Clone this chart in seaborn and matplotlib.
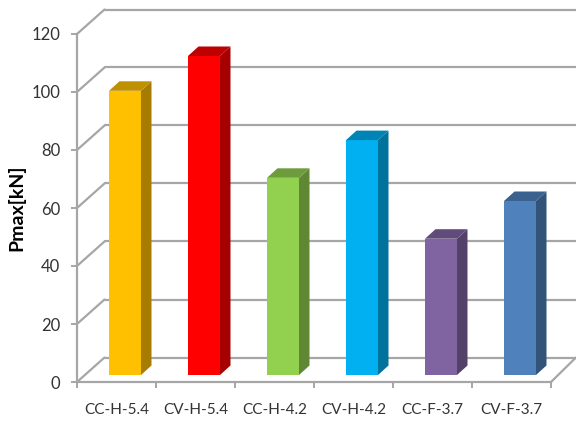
import matplotlib
matplotlib.use("Agg")
import matplotlib.pyplot as plt
from matplotlib.patches import Polygon
import seaborn as sns

specimens = ["CC-H-5.4", "CV-H-5.4", "CC-H-4.2", "CV-H-4.2", "CC-F-3.7", "CV-F-3.7"]
pmax = [98, 110, 68, 81, 47, 60]
front_colors = ["#FFC000", "#FF0000", "#92D050", "#00B0F0", "#8064A2", "#4F81BD"]
side_colors = ["#A67D00", "#A60000", "#5F8734", "#00729C", "#534169", "#335479"]
top_colors = ["#BF9000", "#BF0000", "#6E9C3C", "#0084B4", "#604B7A", "#3B618E"]
y_ticks = [0, 20, 40, 60, 80, 100, 120]

W, H = 576, 423
GRID = "#A6A6A6"
TEXT = "#333333"

sns.set_theme(style="white")
plt.rcParams["font.family"] = ["Lato", "DejaVu Sans"]

fig = plt.figure(figsize=(W / 100, H / 100), dpi=100, facecolor="white")


def panel(left, bottom_px, width, height):
    return fig.add_axes([left / W, (H - bottom_px) / H, width / W, height / H])


# Wall and floor of the box, drawn in category/value units
frame = panel(77, 382, 474, 348)
frame.set_xlim(-0.5, 5.5)
frame.set_ylim(0, 120)
wall_dx, wall_dy = 27.5 / 79, 24.5 / 2.9
right_edge = (W - 77) / 79 - 0.5
for level in y_ticks:
    frame.plot([-0.5, -0.5 + wall_dx], [level, level + wall_dy],
               color=GRID, lw=1.6, clip_on=False, zorder=1)
    frame.plot([-0.5 + wall_dx, right_edge], [level + wall_dy] * 2,
               color=GRID, lw=1.6, clip_on=False, zorder=1)
frame.plot([5.5, right_edge], [0, wall_dy], color=GRID, lw=1.6, clip_on=False, zorder=1)

frame.set_yticks(y_ticks)
frame.set_xticks([i - 0.5 for i in range(7)], minor=True)
frame.set_xticks(range(len(specimens)), specimens)
frame.tick_params(axis="y", which="major", length=4, width=1.4, color=GRID,
                  labelsize=12, labelcolor=TEXT, pad=8, left=True)
frame.tick_params(axis="x", which="major", length=0, labelsize=11,
                  labelcolor=TEXT, pad=15)
frame.tick_params(axis="x", which="minor", length=4, width=1.4, color=GRID, bottom=True)
for name, spine in frame.spines.items():
    spine.set_visible(name in ("left", "bottom"))
    spine.set_color(GRID)
    spine.set_linewidth(1.6)
frame.set_ylabel("Pmax[kN]", fontsize=14, fontweight="bold", color="black")
frame.yaxis.set_label_coords((25 - 77) / 474, 0.5)

# Columns stand slightly inside the box: same scales, shifted right and up
bars = panel(77 + 8.5, 382 - 7, 474, 348)
bars.patch.set_alpha(0)
sns.barplot(x=specimens, y=pmax, hue=specimens, palette=front_colors, saturation=1,
            width=0.405, legend=False, ax=bars, zorder=3, linewidth=0, edgecolor="none")
bars.set_xlim(-0.5, 5.5)
bars.set_ylim(0, 120)
bars.axis("off")

depth_x, depth_y = 10.5 / 79, 9.5 / 2.9
for patch, side, top in zip(bars.patches, side_colors, top_colors):
    x0 = patch.get_x()
    x1 = x0 + patch.get_width()
    h = patch.get_height()
    bars.add_patch(Polygon([(x1, 0), (x1 + depth_x, depth_y), (x1 + depth_x, h + depth_y), (x1, h)],
                           closed=True, facecolor=side, edgecolor="none", clip_on=False, zorder=3))
    bars.add_patch(Polygon([(x0, h), (x0 + depth_x, h + depth_y), (x1 + depth_x, h + depth_y), (x1, h)],
                           closed=True, facecolor=top, edgecolor="none", clip_on=False, zorder=3))

fig.savefig("out.png", dpi=100)
